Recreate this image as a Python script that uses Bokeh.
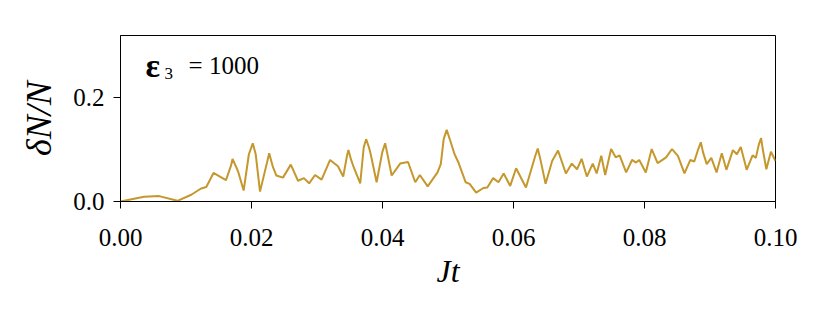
from bokeh.plotting import figure
from bokeh.models import Range1d, FixedTicker, CustomJSTickFormatter
from bokeh.core.properties import value
from bokeh.embed import file_html
from bokeh.resources import INLINE

t = [0.0, 0.0036, 0.0059, 0.0087, 0.0108, 0.0123, 0.0131, 0.0142, 0.0161, 0.01687, 0.0171,
     0.01768, 0.018, 0.0188, 0.0196, 0.0202, 0.02064, 0.0213, 0.02237, 0.0227, 0.02328,
     0.0238, 0.0248, 0.026, 0.0271, 0.028,
     0.0288, 0.0297, 0.0307, 0.032, 0.0332, 0.034, 0.03458, 0.0348, 0.03519, 0.0356,
     0.0366, 0.03713, 0.0375, 0.03794,
     0.0382, 0.0391, 0.03997, 0.0404, 0.04069, 0.0414, 0.0427, 0.0439, 0.045, 0.0457,
     0.0469, 0.0484, 0.0489, 0.04934, 0.0498, 0.05035, 0.051, 0.0516, 0.0527, 0.0533,
     0.0543, 0.0554, 0.056, 0.0569,
     0.0577, 0.0585, 0.0595, 0.0604, 0.0619, 0.06333, 0.0637, 0.06409, 0.0649, 0.0659,
     0.0668, 0.068,
     0.0689, 0.0697, 0.0704, 0.0712, 0.0721, 0.0727, 0.0734, 0.074, 0.0749, 0.0756,
     0.0762, 0.0772, 0.0781, 0.0787, 0.0792, 0.0802, 0.0811, 0.082, 0.0833, 0.0842,
     0.0851, 0.0861, 0.087, 0.0876, 0.08821, 0.0886, 0.08893, 0.0895, 0.0902, 0.091,
     0.0918, 0.0925,
     0.0935, 0.0941, 0.0947, 0.0956, 0.0965, 0.097, 0.09744, 0.0978, 0.09805, 0.0986,
     0.0993, 0.1]

dN_over_N = [0.0, 0.009, 0.0104, 0.0013, 0.013, 0.025, 0.028, 0.055, 0.041, 0.069, 0.082,
             0.066, 0.056, 0.021, 0.091, 0.112, 0.091, 0.019, 0.075, 0.093, 0.066,
             0.050, 0.046, 0.071, 0.040, 0.045,
             0.035, 0.051, 0.042, 0.080, 0.068, 0.048, 0.088, 0.099, 0.081, 0.066,
             0.035, 0.104, 0.120, 0.104,
             0.091, 0.037, 0.095, 0.112, 0.095, 0.050, 0.073, 0.076, 0.037, 0.051,
             0.029, 0.056, 0.072, 0.120, 0.138, 0.117, 0.091, 0.075, 0.037, 0.034,
             0.017, 0.026, 0.027, 0.045,
             0.037, 0.054, 0.030, 0.064, 0.027, 0.088, 0.102, 0.082, 0.034, 0.078,
             0.098, 0.054,
             0.073, 0.062, 0.082, 0.048, 0.073, 0.054, 0.088, 0.051, 0.101, 0.085,
             0.089, 0.056, 0.080, 0.075, 0.080, 0.056, 0.101, 0.074, 0.085, 0.101,
             0.088, 0.054, 0.080, 0.077, 0.101, 0.114, 0.095, 0.072, 0.084, 0.056,
             0.093, 0.061,
             0.099, 0.091, 0.105, 0.061, 0.089, 0.084, 0.109, 0.122, 0.101, 0.062,
             0.096, 0.078]

x_ticks = [0.0, 0.02, 0.04, 0.06, 0.08, 0.10]
y_ticks = [0.0, 0.2]
# annotation "ε₃ = 1000", drawn in three pieces (symbol, subscript, value)
ann_symbol = "ε"
ann_subscript = "3"
ann_value = "= 1000"

FONT = "Liberation Serif"
W, H = 830, 320

p = figure(width=W, height=H, output_backend="svg", toolbar_location=None,
           x_range=Range1d(0, 0.1), y_range=Range1d(0, 0.3196),
           min_border_left=120, min_border_right=55, min_border_top=35,
           min_border_bottom=119)
p.background_fill_color = "white"
p.border_fill_color = "white"
p.outline_line_color = "black"
p.outline_line_width = 1
p.xgrid.visible = False
p.ygrid.visible = False

p.line(t, dN_over_N, line_color="#C4982C", line_width=2)

p.xaxis.ticker = FixedTicker(ticks=x_ticks)
p.yaxis.ticker = FixedTicker(ticks=y_ticks)
p.xaxis.formatter = CustomJSTickFormatter(code="return tick.toFixed(2);")
p.yaxis.formatter = CustomJSTickFormatter(code="return tick.toFixed(1);")

for ax in (p.xaxis[0], p.yaxis[0]):
    ax.major_label_text_font = FONT
    ax.major_label_text_font_size = "25px"
    ax.major_label_text_color = "black"
    ax.axis_label_text_font = FONT
    ax.axis_label_text_font_style = "italic"
    ax.axis_label_text_color = "black"
    ax.major_tick_in = 0
    ax.major_tick_out = 7
    ax.minor_tick_in = 0
    ax.minor_tick_out = 0
    ax.axis_line_color = "black"
    ax.major_tick_line_color = "black"

p.xaxis.axis_label = "Jt"
p.yaxis.axis_label = "δN/N"
p.xaxis.axis_label_text_font_size = "32px"
p.yaxis.axis_label_text_font_size = "36px"
p.xaxis.major_label_standoff = 20
p.yaxis.major_label_standoff = 9
p.xaxis.axis_label_standoff = 4
p.yaxis.axis_label_standoff = 11

p.text(x=[0.0038], y=[0.262], text=[ann_symbol], text_font=value(FONT),
       text_font_size="34px", text_font_style="bold", text_color="black",
       text_baseline="alphabetic", text_align="left")
p.text(x=[0.0067], y=[0.2465], text=[ann_subscript], text_font=value(FONT),
       text_font_size="17px", text_color="black",
       text_baseline="alphabetic", text_align="left")
p.text(x=[0.0104], y=[0.262], text=[ann_value], text_font=value(FONT),
       text_font_size="25px", text_color="black",
       text_baseline="alphabetic", text_align="left")

open("out.html", "w").write(file_html(p, INLINE))
